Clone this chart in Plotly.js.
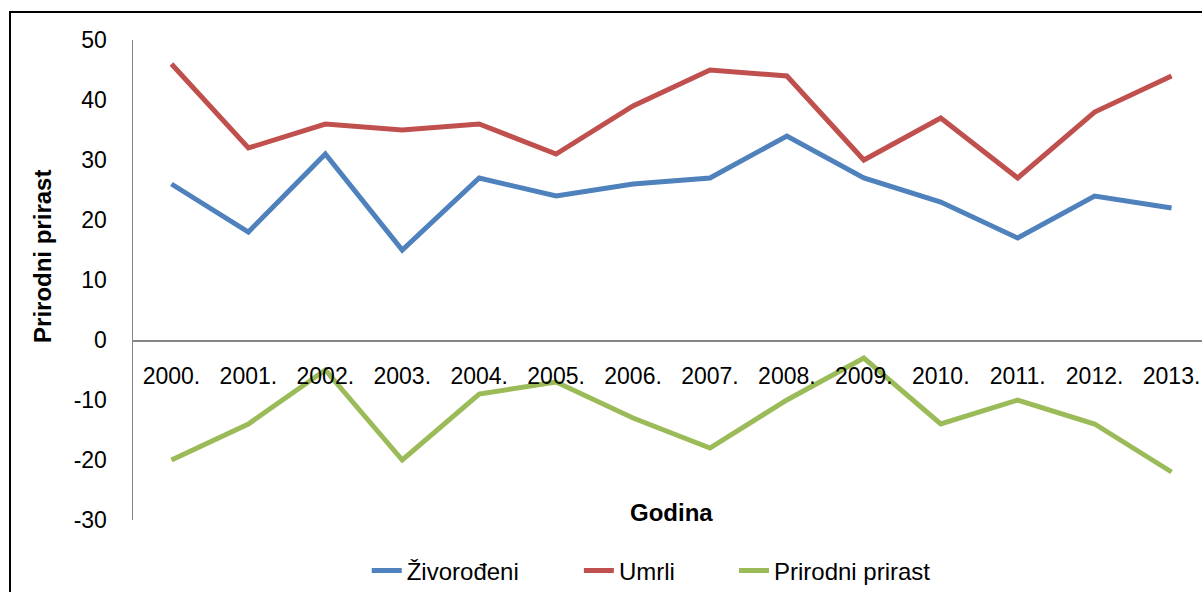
<!DOCTYPE html>
<html>
<head>
<meta charset="utf-8">
<script src="https://cdn.plot.ly/plotly-3.0.1.min.js"></script>
<style>
  html, body { margin: 0; padding: 0; overflow: hidden; background: #fff; }
  #frame { position: absolute; left: 9px; top: 11px; width: 1300px; height: 700px;
           border-left: 2px solid #000; border-top: 2px solid #000; pointer-events: none; }
  #chart { position: absolute; left: 0; top: 0; }
</style>
</head>
<body>
<div id="chart"></div>
<div id="frame"></div>
<script>
// values
var years = ["2000.", "2001.", "2002.", "2003.", "2004.", "2005.", "2006.",
             "2007.", "2008.", "2009.", "2010.", "2011.", "2012.", "2013."];
var zivorodjeni = [26, 18, 31, 15, 27, 24, 26, 27, 34, 27, 23, 17, 24, 22];
var umrli = [46, 32, 36, 35, 36, 31, 39, 45, 44, 30, 37, 27, 38, 44];
var prirast = [-20, -14, -5, -20, -9, -7, -13, -18, -10, -3, -14, -10, -14, -22];
var yTicks = [-30, -20, -10, 0, 10, 20, 30, 40, 50];

var fontFam = '"Liberation Sans", Arial, sans-serif';

function line(name, ys, color, leg) {
    return {
        x: years, y: ys, name: name, type: 'scatter', mode: 'lines',
        legend: leg,
        line: { color: color, width: 5 }
    };
}

var traces = [
    line("Živorođeni", zivorodjeni, "#4F81BD", 'legend'),
    line("Umrli", umrli, "#C0504D", 'legend2'),
    line("Prirodni prirast", prirast, "#9BBB59", 'legend3')
];

// one legend box per entry, so the gaps can follow the reference
function legendAt(x) {
    return {
        orientation: 'h', x: x, xanchor: 'left', y: -0.106, yanchor: 'middle',
        bgcolor: 'rgba(0,0,0,0)',
        font: { family: fontFam, size: 24 }
    };
}

var layout = {
    width: 1215,
    height: 592,
    margin: { l: 133, r: 5, t: 40, b: 72, pad: 0, autoexpand: false },
    paper_bgcolor: 'rgba(0,0,0,0)',
    plot_bgcolor: 'rgba(0,0,0,0)',
    font: { family: fontFam, size: 22, color: '#000' },
    showlegend: true,
    legend: legendAt(0.217),
    legend2: legendAt(0.414),
    legend3: legendAt(0.558),
    xaxis: {
        type: 'category',
        range: [-0.5, 13.5],
        anchor: 'free',
        position: 0.375,
        showline: true, linecolor: '#868686', linewidth: 1.5,
        showgrid: false, zeroline: false,
        ticks: '', ticklabelstandoff: 15,
        tickfont: { family: fontFam, size: 23 }
    },
    yaxis: {
        range: [-30, 50],
        tickvals: yTicks,
        ticktext: yTicks.map(String),
        showline: true, linecolor: '#868686', linewidth: 1.5,
        showgrid: false, zeroline: false,
        ticks: '', ticklabelstandoff: 20,
        tickfont: { family: fontFam, size: 23 }
    },
    annotations: [
        { text: "<b>Godina</b>", xref: 'paper', yref: 'paper', x: 0.5, y: 0.0146,
          xanchor: 'center', yanchor: 'middle',
          showarrow: false, font: { family: fontFam, size: 24 } },
        { text: "<b>Prirodni prirast</b>", xref: 'paper', yref: 'paper',
          x: -0.0836, y: 0.55, xanchor: 'center', yanchor: 'middle',
          textangle: -90, showarrow: false,
          font: { family: fontFam, size: 24 } }
    ]
};

Plotly.newPlot("chart", traces, layout, { displayModeBar: false, staticPlot: true });
</script>
</body>
</html>
